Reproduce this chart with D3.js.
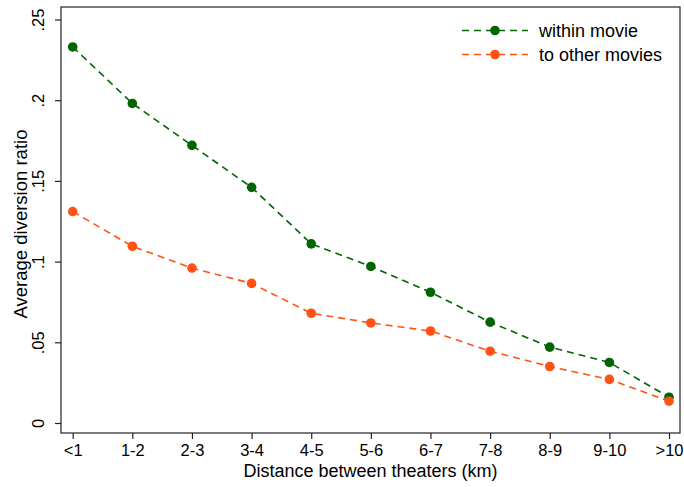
<!DOCTYPE html>
<html><head><meta charset="utf-8">
<script src="https://cdn.jsdelivr.net/npm/d3@7"></script>
<style>body{margin:0;background:#fff}svg{display:block}text{font-family:"Liberation Sans",Arial,Helvetica,sans-serif;fill:#000}</style>
</head><body>
<script>
const categories = ["<1","1-2","2-3","3-4","4-5","5-6","6-7","7-8","8-9","9-10",">10"];
const withinMovie = [0.233,0.198,0.172,0.146,0.111,0.097,0.081,0.0625,0.047,0.0375,0.016];
const otherMovies = [0.131,0.1095,0.096,0.0865,0.068,0.062,0.057,0.0445,0.035,0.027,0.0135];
const yTicks = [0,0.05,0.1,0.15,0.2,0.25];
const yTickLabels = ["0",".05",".1",".15",".2",".25"];
const seriesNames = ["within movie","to other movies"];
const colors = ["#006400","#ff5214"];

const W=684,H=487;
const box={left:61,right:680,top:7,bottom:433};
const svg=d3.select("body").append("svg").attr("width",W).attr("height",H);

const x=d3.scalePoint().domain(categories).range([72.7,669]);
const y=d3.scaleLinear().domain([0,0.25]).range([423,19.5]);

svg.append("rect").attr("x",box.left).attr("y",box.top).attr("width",box.right-box.left).attr("height",box.bottom-box.top)
  .attr("fill","none").attr("stroke","#222").attr("stroke-width",1.2);

const yAxis=svg.append("g").attr("transform",`translate(${box.left},0)`)
  .call(d3.axisLeft(y).tickValues(yTicks).tickFormat((d,i)=>yTickLabels[i]).tickSize(6).tickPadding(4));
yAxis.select(".domain").remove();
yAxis.selectAll("line").attr("stroke","#222").attr("stroke-width",1.2);
yAxis.selectAll("text").attr("font-size",16.5).attr("text-anchor","middle").attr("dy",null).attr("x",null)
  .attr("transform","translate(-21,0) rotate(-90)").attr("dominant-baseline","middle");

const xAxis=svg.append("g").attr("transform",`translate(0,${box.bottom})`)
  .call(d3.axisBottom(x).tickSize(6).tickPadding(5));
xAxis.select(".domain").remove();
xAxis.selectAll("line").attr("stroke","#222").attr("stroke-width",1.2);
xAxis.selectAll("text").attr("font-size",16.5).attr("font-family","Liberation Sans, Arial, sans-serif");

svg.append("text").attr("x",370.5).attr("y",476.5).attr("text-anchor","middle").attr("font-size",18).text("Distance between theaters (km)");
svg.append("text").attr("transform","translate(26.5,224) rotate(-90)").attr("text-anchor","middle").attr("font-size",18.5).text("Average diversion ratio");

const series=[withinMovie,otherMovies];
const line=d3.line().x((d,i)=>x(categories[i])).y(d=>y(d));
series.forEach((s,k)=>{
  svg.append("path").datum(s).attr("d",line).attr("fill","none").attr("stroke",colors[k])
    .attr("stroke-width",1.6).attr("stroke-dasharray","7,5");
});
series.forEach((s,k)=>{
  svg.append("g").selectAll("circle").data(s).join("circle")
    .attr("cx",(d,i)=>x(categories[i])).attr("cy",d=>y(d)).attr("r",4.8).attr("fill",colors[k]);
});

const leg=svg.append("g");
seriesNames.forEach((n,k)=>{
  const ly=30.5+k*24;
  leg.append("line").attr("x1",462).attr("x2",528).attr("y1",ly).attr("y2",ly).attr("stroke",colors[k])
    .attr("stroke-width",1.6).attr("stroke-dasharray","7,5");
  leg.append("circle").attr("cx",495).attr("cy",ly).attr("r",4.8).attr("fill",colors[k]);
  leg.append("text").attr("x",539).attr("y",ly).attr("dy","0.35em").attr("font-size",18).text(n);
});
</script>
</body></html>
